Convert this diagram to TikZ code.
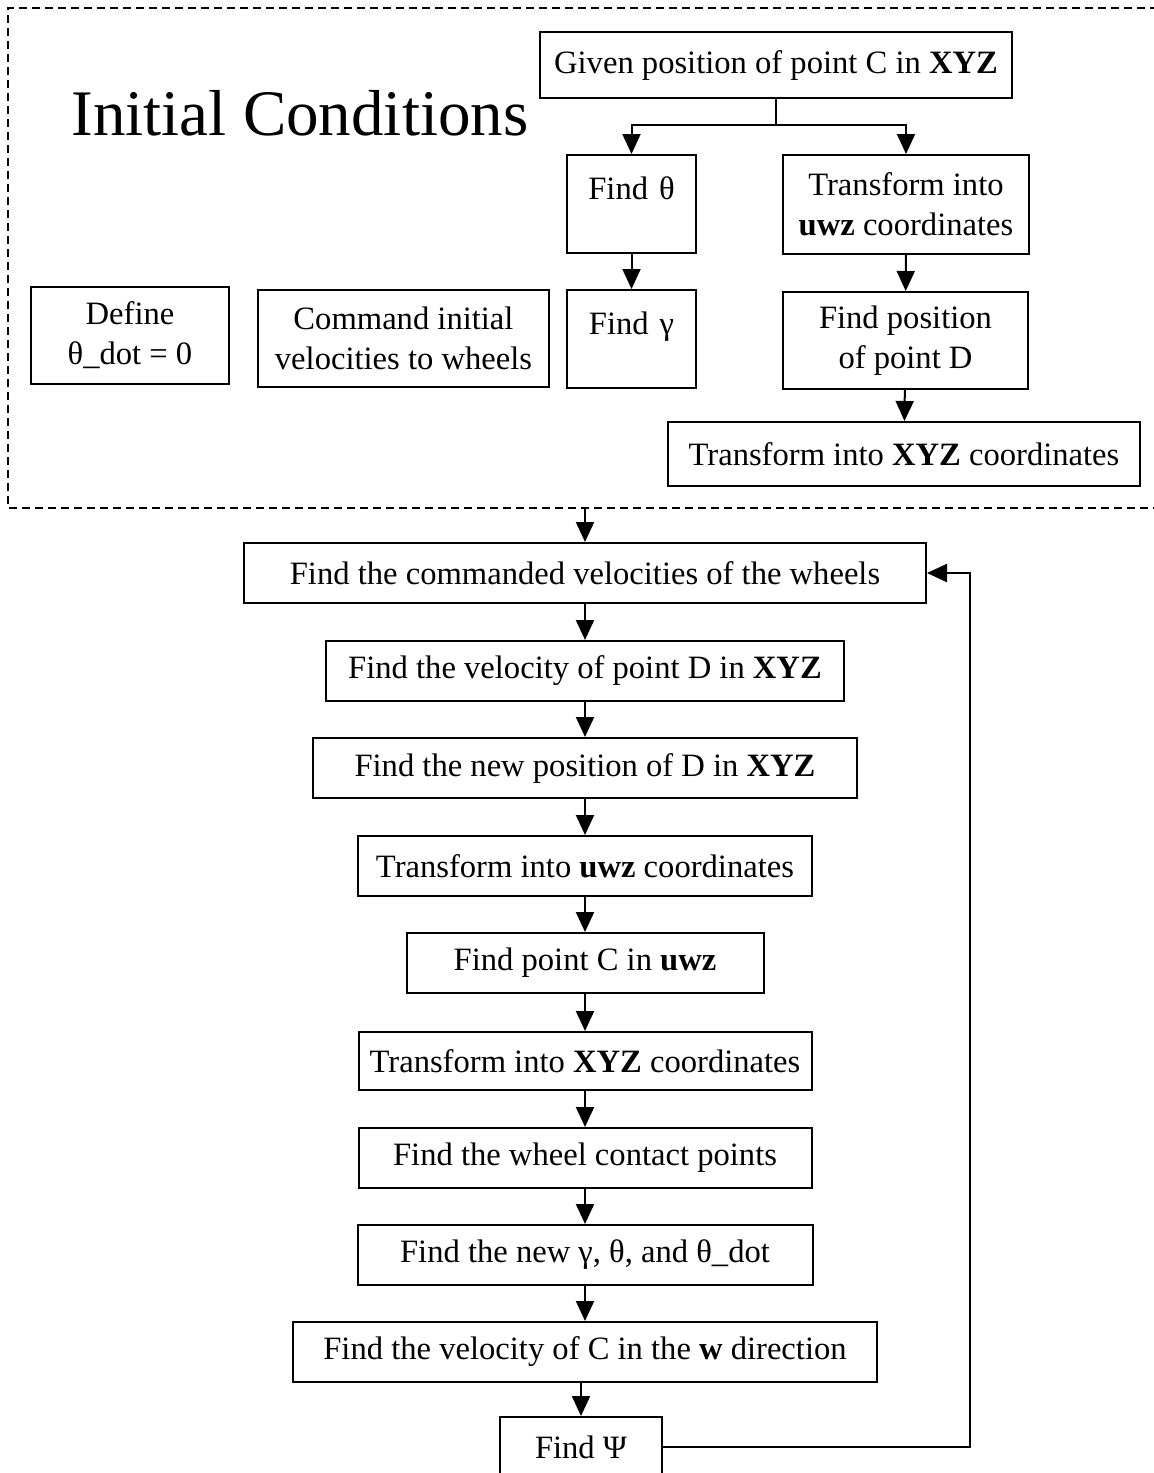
\documentclass[tikz,border=0pt]{standalone}
\usepackage{fontspec}
\setmainfont{Liberation Serif}
\usepackage{tikz}
\usetikzlibrary{shapes,arrows.meta,positioning,calc}

\begin{document}
\begin{tikzpicture}[x=0.5pt,y=-0.5pt,line width=1pt,>={Triangle[length=10pt,width=9pt]}]
\tikzset{
  stepbox/.style={draw,line width=1pt,inner sep=0pt,align=center,font=\fontsize{16.3}{20}\selectfont},
  flowbox/.style={stepbox,minimum height=30pt},
  topbox/.style={stepbox,text width=#1,text height=22pt,text depth=27pt},
}
\useasboundingbox (0,0) rectangle (1154,1473);
\clip (0,0) rectangle (1154,1473);

%Flow column and loop-back position
\def\col{585}           %x of the main flow.
\def\back{970}          %x of the return line.

% Define coordinates.
    \coordinate (fork) at (776,125);
    \coordinate (exit) at (\col,508);
    \coordinate (loop) at (\back,573);

% Initial conditions, inside the dashed frame
    \draw[dashed,dash pattern=on 4pt off 2.5pt] (1200,508) -| (8,8) -- (1200,8);
    \node (title) at (300,113) {\fontsize{32.5}{36}\selectfont Initial Conditions};

    \node[stepbox,minimum width=236pt,minimum height=33pt] (given) at (776,65) {Given position of point C in \textbf{XYZ}};
    \node[topbox=64.5pt] (findtheta) at (631.5,204) {Find θ};
    \node[stepbox,minimum width=123pt,minimum height=49.5pt] (transuwz) at (906,204.5) {Transform into\\\textbf{uwz} coordinates};
    \node[topbox=64.5pt] (findgamma) at (631.5,339) {Find γ};
    \node[stepbox,minimum width=122.5pt,minimum height=48.5pt] (findposD) at (905.5,340.5) {Find position\\ of point D};
    \node[stepbox,minimum width=236pt,minimum height=32pt] (transXYZa) at (904,454) {Transform into \textbf{XYZ} coordinates};
    \node[stepbox,minimum width=99pt,minimum height=48.5pt] (definedot) at (130,335.5) {Define\\θ\_dot = 0};
    \node[stepbox,minimum width=145.5pt,minimum height=48.5pt] (command) at (403.5,338.5) {Command initial\\velocities to wheels};

    \draw (given.south) -- (fork);
    \draw[->] (fork) -| (findtheta.north);
    \draw[->] (fork) -| (transuwz.north);
    \draw[->] (findtheta) -- (findgamma);
    \draw[->] (transuwz) -- (findposD);
    \draw[->] (findposD) -- (transXYZa);

% Main loop
    \node[flowbox,minimum width=341pt] (commanded) at (\col,573) {Find the commanded velocities of the wheels};
    \node[flowbox,minimum width=259pt] (velD) at (\col,671) {Find the velocity of point D in \textbf{XYZ}};
    \node[flowbox,minimum width=272pt] (newposD) at (\col,768) {Find the new position of D in \textbf{XYZ}};
    \node[flowbox,minimum width=227pt] (transuwzb) at (\col,866) {Transform into \textbf{uwz} coordinates};
    \node[flowbox,minimum width=178.5pt] (pointC) at (\col,963) {Find point C in \textbf{uwz}};
    \node[flowbox,minimum width=226.5pt,minimum height=29pt] (transXYZb) at (\col,1061) {Transform into \textbf{XYZ} coordinates};
    \node[flowbox,minimum width=226.5pt] (contact) at (\col,1158) {Find the wheel contact points};
    \node[flowbox,minimum width=227.5pt] (newgamma) at (\col,1255) {Find the new γ, θ, and θ\_dot};
    \node[flowbox,minimum width=292pt] (velCw) at (\col,1352) {Find the velocity of C in the \textbf{w} direction};
    \node[flowbox,minimum width=81pt] (findpsi) at (581,1447) {Find Ψ};

    \draw[->] (exit) -- (commanded);
    \draw[->] (commanded) -- (velD);
    \draw[->] (velD) -- (newposD);
    \draw[->] (newposD) -- (transuwzb);
    \draw[->] (transuwzb) -- (pointC);
    \draw[->] (pointC) -- (transXYZb);
    \draw[->] (transXYZb) -- (contact);
    \draw[->] (contact) -- (newgamma);
    \draw[->] (newgamma) -- (velCw);
    \draw[->] (velCw.south -| findpsi.north) -- (findpsi);
    \draw[->] (findpsi.east) -| (loop) -- (commanded.east);

\end{tikzpicture}
\end{document}
